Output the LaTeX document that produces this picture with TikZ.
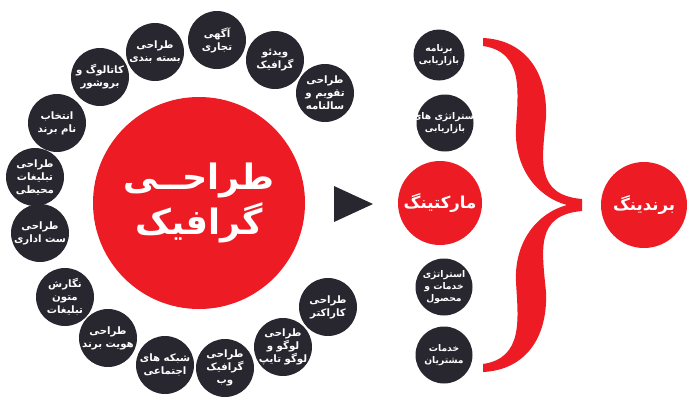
\documentclass[tikz,border=0pt]{standalone}
\usepackage{fontspec}
\newfontfamily\fa[Script=Arabic]{DejaVu Sans}
\TeXXeTstate=1
\definecolor{brred}{HTML}{ED1C24}
\definecolor{brdark}{HTML}{28262F}
\tikzset{
  dk/.style={circle, fill=brdark, minimum size=58pt, inner sep=0pt},
  dkt/.style={text=white, align=center, inner sep=0pt,
    font=\fa\bfseries\fontsize{10.2}{13}\selectfont},
  dkst/.style={dkt, font=\fa\bfseries\fontsize{9.2}{12}\selectfont},
  rd/.style={circle, fill=brred, inner sep=0pt, text=white, align=center},
}
\begin{document}
\begin{tikzpicture}[x=1pt,y=-1pt]
\useasboundingbox (0,0) rectangle (700,410);
% big circle
\node[rd, minimum size=212pt, font=\fa\bfseries\fontsize{35}{45}\selectfont] (main) at (199,203) {\beginR طراحــی\endR\\\beginR گرافیک\endR};
% ring of services
\node[dk, label={[dkt]center:{\beginR طراحی\endR\\\beginR بسته بندی\endR}}] (c1) at (155,52) {};
\node[dk, label={[dkt]center:{\beginR آگهی\endR\\\beginR تجاری\endR}}] (c2) at (217,40) {};
\node[dk, label={[dkt]center:{\beginR ویدئو\endR\\\beginR گرافیک\endR}}] (c3) at (275,60) {};
\node[dk, label={[dkt]center:{\beginR طراحی\endR\\\beginR تقویم و\endR\\\beginR سالنامه\endR}}] (c4) at (325,93) {};
\node[dk, label={[dkt]center:{\beginR کاتالوگ و\endR\\\beginR بروشور\endR}}] (c5) at (100,77) {};
\node[dk, label={[dkt]center:{\beginR انتخاب\endR\\\beginR نام برند\endR}}] (c6) at (57,123) {};
\node[dk, label={[dkt]center:{\beginR طراحی\endR\\\beginR تبلیغات\endR\\\beginR محیطی\endR}}] (c7) at (35,177) {};
\node[dk, label={[dkt]center:{\beginR طراحی\endR\\\beginR ست اداری\endR}}] (c8) at (40,233) {};
\node[dk, label={[dkt]center:{\beginR نگارش\endR\\\beginR متون\endR\\\beginR تبلیغات\endR}}] (c9) at (65,297) {};
\node[dk, label={[dkt]center:{\beginR طراحی\endR\\\beginR هویت برند\endR}}] (c10) at (108,338) {};
\node[dk, label={[dkt]center:{\beginR شبکه های\endR\\\beginR اجتماعی\endR}}] (c11) at (165,365) {};
\node[dk, label={[dkt]center:{\beginR طراحی\endR\\\beginR گرافیک\endR\\\beginR وب\endR}}] (c12) at (225,368) {};
\node[dk, label={[dkt]center:{\beginR طراحی\endR\\\beginR لوگو و\endR\\\beginR لوگو تایپ\endR}}] (c13) at (283,347) {};
\node[dk, label={[dkt]center:{\beginR طراحی\endR\\\beginR کاراکتر\endR}}] (c14) at (328,307) {};
% arrow head
\fill[brdark] (334,186) -- (373,204) -- (334,222) -- cycle;
% marketing
\node[rd, minimum size=84pt, font=\fa\bfseries\fontsize{16.5}{19}\selectfont] (mk) at (440,203) {\beginR مارکتینگ\endR};
\node[dk, minimum size=51pt, label={[dkst]center:{\beginR برنامه\endR\\\beginR بازاریابی\endR}}] (m1) at (439,55) {};
\node[dk, minimum size=57pt, label={[dkst]center:{\beginR استراتژی های\endR\\\beginR بازاریابی\endR}}] (m2) at (445,123) {};
\node[dk, minimum size=57pt, label={[dkst]center:{\beginR استراتژی\endR\\\beginR خدمات و\endR\\\beginR محصول\endR}}] (m3) at (444,287) {};
\node[dk, minimum size=57pt, label={[dkst]center:{\beginR خدمات\endR\\\beginR مشتریان\endR}}] (m4) at (444,355) {};
% brace
\fill[brred] (483,38) .. controls (525,40) and (548,72) .. (546,118)
  .. controls (542,160) and (535,195) .. (582,199) -- (582,211)
  .. controls (535,215) and (542,250) .. (546,292)
  .. controls (548,338) and (525,370) .. (483,372) -- (483,364)
  .. controls (524,358) and (518,318) .. (516,282)
  .. controls (514,242) and (537,213) .. (567,205)
  .. controls (537,197) and (514,168) .. (516,128)
  .. controls (518,92) and (524,52) .. (483,46) -- cycle;
% branding
\node[rd, minimum size=86pt, font=\fa\bfseries\fontsize{16.5}{19}\selectfont] (br) at (644,205) {\beginR برندینگ\endR};
\end{tikzpicture}
\end{document}
